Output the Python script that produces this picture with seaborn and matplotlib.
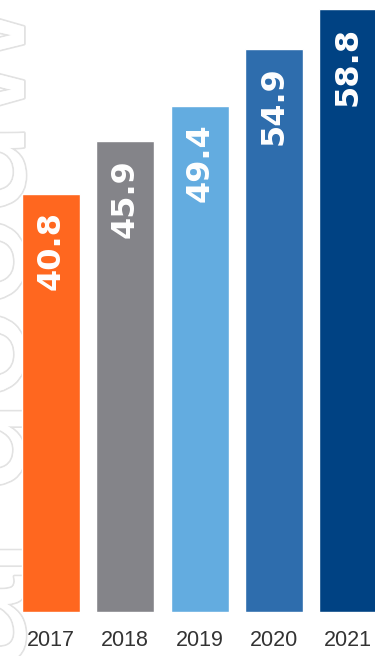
import matplotlib
matplotlib.use("Agg")
import matplotlib.pyplot as plt
import matplotlib.patheffects as pe
import seaborn as sns
import pandas as pd

years = ["2017", "2018", "2019", "2020", "2021"]
values = [40.8, 45.9, 49.4, 54.9, 58.8]
colors = ["#FF671F", "#848489", "#63ACE0", "#2E6DAD", "#004283"]

sns.set_theme(style="white")
plt.rcParams['font.family'] = ['Liberation Sans', 'DejaVu Sans']

df = pd.DataFrame({"year": years, "value": values})

fig = plt.figure(figsize=(3.75, 6.56), dpi=100)
ax = fig.add_axes([0, 44/656, 1, 612/656])
ax.patch.set_alpha(0)

# faint outlined watermark text behind the bars
ax.text(24/375, -0.02, "al goodwill", transform=fig.transFigure, rotation=90,
        rotation_mode="anchor", ha="left", va="baseline", fontsize=120,
        color="white", zorder=0, clip_on=False,
        path_effects=[pe.withStroke(linewidth=2.6, foreground="#e2e2e2"), pe.Normal()])

sns.barplot(data=df, x="year", y="value", hue="year", palette=colors,
            width=0.78, legend=False, ax=ax, saturation=1, zorder=2)

ax.set_xlim(-0.685, 4.36)
ax.set_ylim(0, 59.7)
for i, v in enumerate(values):
    ax.text(i, v - 1.7, f"{v:.1f}", rotation=90, ha="center", va="top",
            color="white", fontsize=23, fontweight="bold",
            family=["DejaVu Sans"], zorder=3)

ax.set_xlabel("")
ax.set_ylabel("")
ax.set_yticks([])
ax.tick_params(axis="x", length=0, pad=13, labelsize=15.5, labelcolor="#333333")
for s in ax.spines.values():
    s.set_visible(False)

fig.savefig("out.png", dpi=100)
